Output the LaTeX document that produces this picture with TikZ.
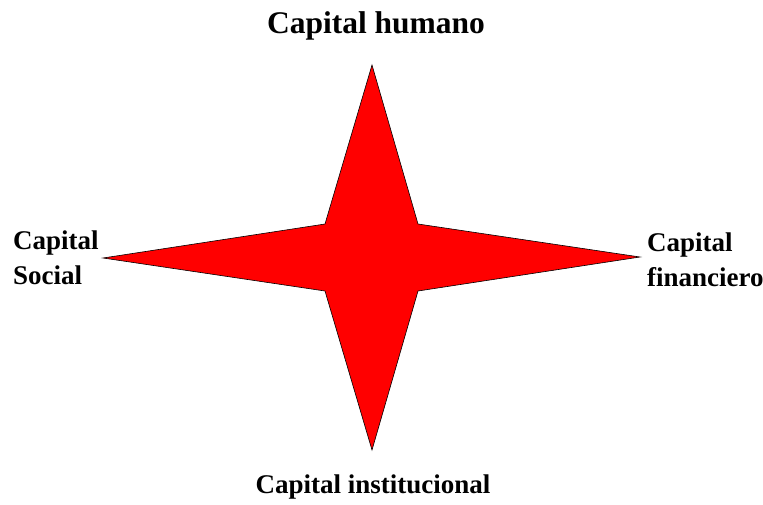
\documentclass[tikz,border=0pt]{standalone}
\usepackage{fontspec}
\setmainfont{Liberation Serif}
\usetikzlibrary{positioning}
\definecolor{starred}{RGB}{255, 0, 0}

\begin{document}
\begin{tikzpicture}[
  x=1pt, y=-1pt,
  label/.style={font=\bfseries\fontsize{27}{35}\selectfont, inner sep=0pt, align=left},
  title/.style={font=\bfseries\fontsize{31.5}{38}\selectfont, inner sep=0pt},
  star/.style={draw=black, line width=0.6pt, fill=starred, line join=miter},
]
\useasboundingbox (0, 0) rectangle (763, 504);

% Star
\draw[star] (372, 65) -- (418, 224) -- (640, 257) -- (418, 291)
  -- (372, 450) -- (325, 291) -- (103, 258) -- (325, 224) -- cycle;

% Labels
\node[title, anchor=base] (humano) at (376, 33) {Capital humano};
\node[label, anchor=west] (social) at (13, 258) {Capital\\Social};
\node[label, anchor=west] (financiero) at (647, 260) {Capital\\financiero};
\node[label, anchor=base] (institucional) at (373, 493) {Capital institucional};

\end{tikzpicture}
\end{document}
